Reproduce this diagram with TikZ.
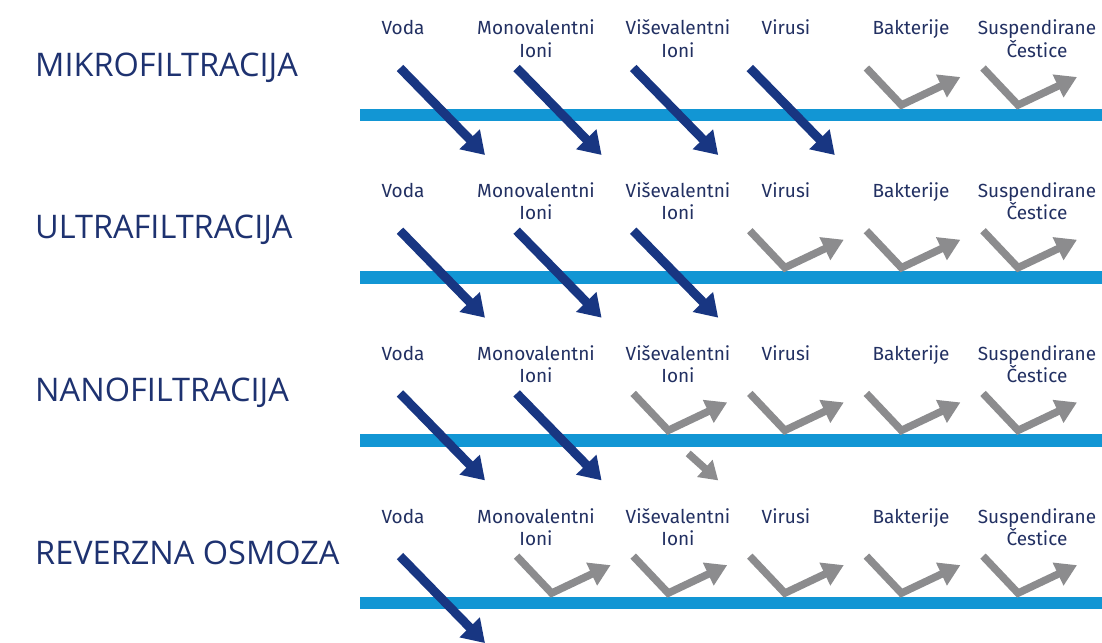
\documentclass[tikz,border=0pt]{standalone}
\usepackage{fontspec}
\setmainfont{Open Sans}
\newfontfamily\labfont{Fira Sans}
\usetikzlibrary{arrows.meta}
\definecolor{navy}{RGB}{24,54,130}
\definecolor{txt}{RGB}{34,48,98}
\definecolor{ttl}{RGB}{30,50,112}
\definecolor{bar}{RGB}{18,150,212}
\definecolor{gry}{RGB}{140,140,142}
\tikzset{
  membrane/.style={line width=12.5pt, draw=bar},
  pass/.style={line width=9pt, draw=navy, -{Triangle[length=22pt,width=27pt]}},
  block/.style={line width=7.5pt, draw=gry, line join=miter, -{Triangle[length=21pt,width=24pt]}},
  part/.style={line width=7.5pt, draw=gry, -{Triangle[length=18pt,width=22pt]}},
  lab/.style={anchor=base, inner sep=0pt, text=txt, font=\labfont\fontsize{19}{22}\selectfont},
  ttlstyle/.style={anchor=base west, inner sep=0pt, text=ttl, font=\fontsize{32.5}{36}\selectfont},
}
\begin{document}
\begin{tikzpicture}[x=1pt,y=-1pt]
\useasboundingbox (0,0) rectangle (1102,642);
\fill[white] (0,0) rectangle (1102,642);
\foreach \r/\title/\np in {1/MIKROFILTRACIJA/4,2/ULTRAFILTRACIJA/3,3/NANOFILTRACIJA/2,4/REVERZNA OSMOZA/1}{
  \pgfmathsetmacro{\b}{115+162.7*(\r-1)}
  \node[ttlstyle] (t\r) at (35,\b-39) {\title};
  \coordinate (ml\r) at (360,\b);
  \coordinate (mr\r) at (1102,\b);
  \draw[membrane] (ml\r) -- (mr\r);
  \node[lab] (v\r) at (403,\b-80) {Voda};
  \node[lab] (m\r) at (536,\b-80) {Monovalentni};
  \node[lab] (mi\r) at (536,\b-58) {Ioni};
  \node[lab] (p\r) at (678,\b-80) {Viševalentni};
  \node[lab] (pi\r) at (678,\b-58) {Ioni};
  \node[lab] (u\r) at (786,\b-80) {Virusi};
  \node[lab] (k\r) at (911,\b-80) {Bakterije};
  \node[lab] (s\r) at (1037,\b-80) {Suspendirane};
  \node[lab] (si\r) at (1037,\b-58) {Čestice};
  \foreach \c in {1,...,6}{
    \pgfmathsetmacro{\xs}{400+116.6*(\c-1)}
    \coordinate (a\r\c) at (\xs,\b-47);
    \coordinate (e\r\c) at (\xs+85,\b+40);
    \coordinate (w\r\c) at (\xs+35,\b-10);
    \coordinate (z\r\c) at (\xs+94,\b-38);
    \ifnum\c>\np
      \draw[block] (a\r\c) -- (w\r\c) -- (z\r\c);
    \else
      \draw[pass] (a\r\c) -- (e\r\c);
    \fi
  }
}
\coordinate (q1) at (400+116.6*2+55,440.4+13);
\draw[part] (q1) -- (e33);
\end{tikzpicture}
\end{document}
